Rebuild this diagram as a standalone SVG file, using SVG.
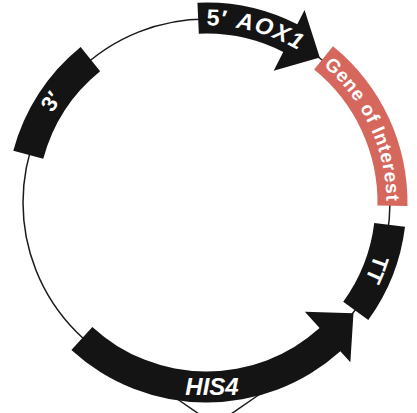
<svg xmlns="http://www.w3.org/2000/svg" width="417" height="413" viewBox="0 0 417 413">
<style>
.bb{fill:#141414;}
.rb{fill:#d6675c;}
.ln{fill:none;stroke:#1a1a1a;stroke-width:1.5;}
.t{fill:#ffffff;font-family:"Liberation Sans",Arial,sans-serif;font-weight:bold;}
</style>
<defs>
<path id="p3" d="M34.57,156.43 A178,178 0 0 1 94.48,64.17"/>
<path id="p5" d="M206.5,25.5 A177,177 0 0 1 320.92,66.14"/>
<path id="pg" d="M319.78,62.61 A180,180 0 0 1 386.47,205.64"/>
<path id="pt" d="M381.19,223.95 A176,176 0 0 1 348.89,305.95"/>
</defs>
<g id="connectors">
<circle class="ln" cx="206.5" cy="202.5" r="183.5"/>
<line class="ln" x1="170" y1="394" x2="199" y2="414"/>
<line class="ln" x1="260" y1="394" x2="231" y2="414"/>
</g>
<g id="three-prime">
<path class="bb" d="M13.31,150.74 A200,200 0 0 1 80.64,47.08 L100.15,71.17 A169,169 0 0 0 43.26,158.76 Z"/>
<text class="t" font-size="22"><textPath href="#p3" startOffset="50%" text-anchor="middle">3′</textPath></text>
</g>
<g id="aox1">
<path class="bb" d="M197.43,2.71 A200,200 0 0 1 297.30,24.30 L304.56,10.04 L319.78,57.5 L273.69,70.63 L283.22,51.92 A169,169 0 0 0 198.83,33.67 Z"/>
<text class="t" font-size="23"><textPath href="#p5" startOffset="0" textLength="96" lengthAdjust="spacing">5′ <tspan font-style="italic">AOX1</tspan></textPath></text>
</g>
<g id="gene">
<path class="rb" d="M332.99,46.29 A201,201 0 0 1 407.47,206.01 L377.47,205.48 A171,171 0 0 0 314.11,69.61 Z"/>
<text class="t" font-size="19"><textPath href="#pg" startOffset="50%" text-anchor="middle" textLength="154" lengthAdjust="spacing">Gene of Interest</textPath></text>
</g>
<g id="tt">
<path class="bb" d="M405.01,226.87 A200,200 0 0 1 368.30,320.06 L343.22,301.84 A169,169 0 0 0 374.24,223.10 Z"/>
<text class="t" font-size="22"><textPath href="#pt" startOffset="50%" text-anchor="middle">TT</textPath></text>
</g>
<g id="his4">
<path class="bb" d="M71.38,349.96 A200,200 0 0 0 340.33,351.13 L350.36,362.28 L353.45,313.23 L304.86,311.74 L319.58,328.09 A169,169 0 0 1 92.33,327.10 Z"/>
<text class="t" font-size="24" font-style="italic" x="212" y="395" text-anchor="middle">HIS4</text>
</g>
</svg>
